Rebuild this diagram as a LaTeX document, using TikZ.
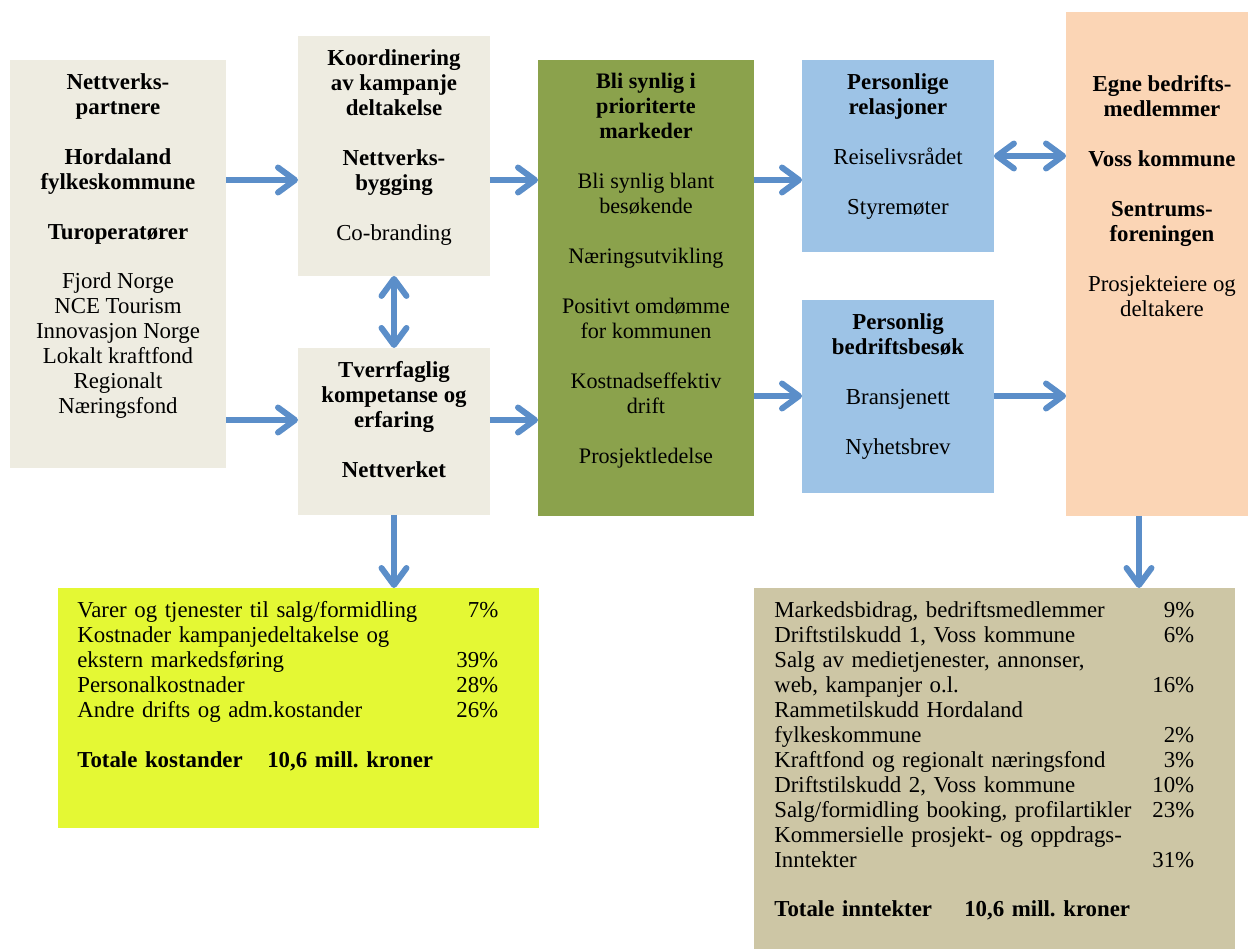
\documentclass[tikz,border=0pt]{standalone}
\usepackage{fontspec}
\setmainfont{Liberation Serif}
\usetikzlibrary{arrows.meta, positioning}
\definecolor{boxgray}{HTML}{EEECE1}
\definecolor{boxgreen}{HTML}{8BA24C}
\definecolor{boxblue}{HTML}{9DC3E6}
\definecolor{boxpeach}{HTML}{FBD5B5}
\definecolor{boxyellow}{HTML}{E4F834}
\definecolor{boxtan}{HTML}{CDC6A5}
\definecolor{arrowblue}{HTML}{5B8EC9}
\tikzset{
    box/.style={rectangle, anchor=north west, inner sep=0pt, outer sep=0pt},
    boxtext/.style={anchor=north, align=center, inner xsep=0pt, inner ysep=7.5pt, font=\fontsize{13}{14.2}\selectfont},
    greentext/.style={boxtext, font=\fontsize{12.6}{14.2}\selectfont},
    listtext/.style={anchor=north west, align=left, text width=8.42cm, inner xsep=0pt, inner ysep=7.5pt, font=\fontsize{13}{14.2}\selectfont},
    arrow/.style={-{Straight Barb[length=3.4mm, width=5mm, round]}, line width=3.4pt, draw=arrowblue},
    doublearrow/.style={{Straight Barb[length=3.4mm, width=5mm, round]}-{Straight Barb[length=3.4mm, width=5mm, round]}, line width=3.4pt, draw=arrowblue}
}
\newcommand{\blankrow}{\\[\baselineskip]}

\begin{document}
\frenchspacing
\begin{tikzpicture}[x=0.02cm, y=-0.02cm]
    \useasboundingbox (0,0) rectangle (1248,949);
    % Partners (left)
    \node[box, fill=boxgray, minimum width=4.32cm, minimum height=8.16cm] (partners) at (10,60) {};
    \node[boxtext] (partners_text) at (partners.north)
    {\textbf{Nettverks-} \\ \textbf{partnere} \blankrow \textbf{Hordaland} \\ \textbf{fylkeskommune} \blankrow
    \textbf{Turoperatører} \blankrow Fjord Norge \\ NCE Tourism \\ Innovasjon Norge \\ Lokalt kraftfond \\ Regionalt \\ Næringsfond};

    % Coordination and competence (middle column)
    \node[box, fill=boxgray, minimum width=3.84cm, minimum height=4.8cm] (koord) at (298,36) {};
    \node[boxtext] (koord_text) at (koord.north)
    {\textbf{Koordinering} \\ \textbf{av kampanje} \\ \textbf{deltakelse} \blankrow \textbf{Nettverks-} \\ \textbf{bygging} \blankrow Co-branding};
    \node[box, fill=boxgray, below=1.44cm of koord.south west, anchor=north west, minimum width=3.84cm, minimum height=3.34cm] (tverr) {};
    \node[boxtext] (tverr_text) at (tverr.north)
    {\textbf{Tverrfaglig} \\ \textbf{kompetanse og} \\ \textbf{erfaring} \blankrow \textbf{Nettverket}};

    % Markets (green)
    \node[box, fill=boxgreen, minimum width=4.32cm, minimum height=9.12cm] (green) at (538,60) {};
    \node[greentext] (green_text) at (green.north)
    {\textbf{Bli synlig i} \\ \textbf{prioriterte} \\ \textbf{markeder} \blankrow Bli synlig blant \\ besøkende \blankrow
    Næringsutvikling \blankrow Positivt omdømme \\ for kommunen \blankrow Kostnadseffektiv \\ drift \blankrow Prosjektledelse};

    % Personal contact (blue)
    \node[box, fill=boxblue, minimum width=3.84cm, minimum height=3.84cm] (relasjoner) at (802,60) {};
    \node[boxtext] (relasjoner_text) at (relasjoner.north)
    {\textbf{Personlige} \\ \textbf{relasjoner} \blankrow Reiselivsrådet \blankrow Styremøter};
    \node[box, fill=boxblue, below=0.96cm of relasjoner.south west, anchor=north west, minimum width=3.84cm, minimum height=3.86cm] (besok) {};
    \node[boxtext] (besok_text) at (besok.north)
    {\textbf{Personlig} \\ \textbf{bedriftsbesøk} \blankrow Bransjenett \blankrow Nyhetsbrev};

    % Members (right)
    \node[box, fill=boxpeach, minimum width=3.64cm, minimum height=10.08cm] (members) at (1066,12) {};
    \node[boxtext] (members_text) at ([xshift=0.1cm, yshift=-1cm]members.north)
    {\textbf{Egne bedrifts-} \\ \textbf{medlemmer} \blankrow \textbf{Voss kommune} \blankrow \textbf{Sentrums-} \\ \textbf{foreningen} \blankrow
    Prosjekteiere og \\ deltakere};

    % Costs (bottom left)
    \node[box, fill=boxyellow, minimum width=9.62cm, minimum height=4.8cm] (costs) at (58,588) {};
    \node[listtext] (costs_text) at ([xshift=0.38cm]costs.north west)
    {Varer og tjenester til salg/formidling \hfill 7\% \\ Kostnader kampanjedeltakelse og \\ ekstern markedsføring \hfill 39\% \\
    Personalkostnader \hfill 28\% \\ Andre drifts og adm.kostander \hfill 26\% \blankrow
    \makebox[3.8cm][l]{\textbf{Totale kostander}}\textbf{10,6 mill. kroner}};

    % Income (bottom right)
    \node[box, fill=boxtan, minimum width=9.62cm, minimum height=7.22cm] (income) at (754,588) {};
    \node[listtext, text width=8.4cm] (income_text) at ([xshift=0.4cm]income.north west)
    {Markedsbidrag, bedriftsmedlemmer \hfill 9\% \\ Driftstilskudd 1, Voss kommune \hfill 6\% \\
    Salg av medietjenester, annonser, \\ web, kampanjer o.l. \hfill 16\% \\ Rammetilskudd Hordaland \\ fylkeskommune \hfill 2\% \\
    Kraftfond og regionalt næringsfond \hfill 3\% \\ Driftstilskudd 2, Voss kommune \hfill 10\% \\
    Salg/formidling booking, profilartikler \hfill 23\% \\ Kommersielle prosjekt- og oppdrags- \\ Inntekter \hfill 31\% \blankrow
    \makebox[3.8cm][l]{\textbf{Totale inntekter}}\textbf{10,6 mill. kroner}};

    % Arrows
    \coordinate (rowA) at (0,180);
    \coordinate (rowB) at (0,420);
    \coordinate (rowC) at (0,396);
    \coordinate (rowD) at (0,156);
    \coordinate (colA) at (1139,0);
    \draw[arrow] (partners.east |- rowA) -- (koord.west |- rowA);
    \draw[arrow] (partners.east |- rowB) -- (tverr.west |- rowB);
    \draw[arrow] (koord.east |- rowA) -- (green.west |- rowA);
    \draw[arrow] (tverr.east |- rowB) -- (green.west |- rowB);
    \draw[doublearrow] (koord.south) -- (tverr.north);
    \draw[arrow] (green.east |- rowA) -- (relasjoner.west |- rowA);
    \draw[arrow] (green.east |- rowC) -- (besok.west |- rowC);
    \draw[doublearrow] (relasjoner.east |- rowD) -- (members.west |- rowD);
    \draw[arrow] (besok.east |- rowC) -- (members.west |- rowC);
    \draw[arrow] (tverr.south) -- (tverr.south |- costs.north);
    \draw[arrow] (members.south -| colA) -- (income.north -| colA);
\end{tikzpicture}
\end{document}
